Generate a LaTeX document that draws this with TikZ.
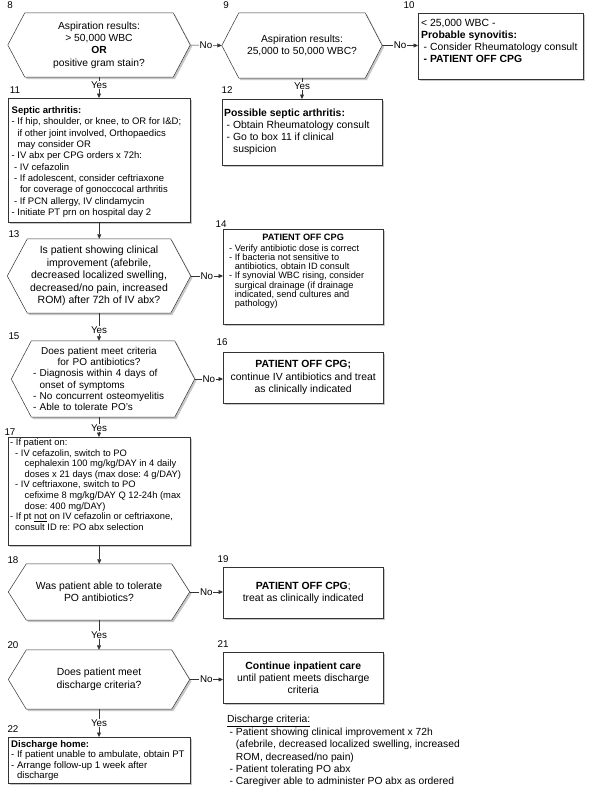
\documentclass[tikz,border=0pt]{standalone}
\usepackage{fontspec}
\setmainfont{Liberation Sans}
\usetikzlibrary{arrows.meta,shadows,calc}
\pgfdeclarelayer{bg}
\pgfsetlayers{bg,main}
\frenchspacing
\newcommand\fs[2]{\fontsize{#1}{#2}\selectfont}
\newcommand\ind{\phantom{- }}
\newcommand\sub{\hspace*{2.5pt}}
\newcommand\hexa[2]{%
  \begin{pgfonlayer}{bg}
  \fill[black!22] ($(#1.west)+(1.8,1.8)$) -- ($(#1.north west)+(#2+1.8,1.8)$) -- ($(#1.north east)+(-#2+1.8,1.8)$) -- ($(#1.east)+(1.8,1.8)$) -- ($(#1.south east)+(-#2+1.8,1.8)$) -- ($(#1.south west)+(#2+1.8,1.8)$) -- cycle;
  \draw[ln, fill=white] (#1.west) -- ($(#1.north west)+(#2,0)$) -- ($(#1.north east)+(-#2,0)$) -- (#1.east) -- ($(#1.south east)+(-#2,0)$) -- ($(#1.south west)+(#2,0)$) -- cycle;
  \end{pgfonlayer}}
\tikzset{
  ln/.style={draw=black!80, line width=0.5pt},
  bx/.style={ln, fill=white, rectangle, inner sep=0pt, anchor=north west,
    drop shadow={shadow xshift=1.8pt, shadow yshift=-1.8pt, fill=black!22, opacity=1}},
  tx/.style={inner sep=0pt, align=left, anchor=north west, execute at begin node=\frenchspacing},
  tc/.style={inner sep=0pt, align=center, execute at begin node=\frenchspacing},
  hexn/.style={rectangle, inner sep=0pt, align=center, execute at begin node=\frenchspacing},
  conn/.style={ln, -{Triangle[length=4.5pt,width=4pt]}},
  lbl/.style={fill=white, inner sep=0.8pt, font=\fs{9.8}{12}},
  num/.style={font=\fs{9.8}{12}, inner sep=0pt},
}
\begin{document}
\begin{tikzpicture}[x=1pt,y=-1pt]
\useasboundingbox (0,0) rectangle (595,803);
\begin{pgfonlayer}{bg}\fill[white] (0,0) rectangle (595,803);\end{pgfonlayer}

% hexagon decision nodes
\node[hexn, minimum width=182, minimum height=64, font=\fs{10.3}{12.4}] (h8) at (99,45) {Aspiration results:\\> 50,000 WBC\\\textbf{OR}\\positive gram stain?};
\node[hexn, minimum width=160, minimum height=65, font=\fs{10.3}{12.4}] (h9) at (302,45.5) {Aspiration results:\\25,000 to 50,000 WBC?};
\node[hexn, minimum width=183, minimum height=74, font=\fs{10.5}{12.4}] (h13) at (99,276) {Is patient showing clinical\\improvement (afebrile,\\decreased localized swelling,\\decreased/no pain, increased\\ROM) after 72h of IV abx?};
\node[hexn, minimum width=183, minimum height=76, text width=140, align=left, font=\fs{10}{11.3}] (h15) at (103,379) {\makebox[132pt]{Does patient meet criteria}\\\makebox[132pt]{for PO antibiotics?}\\- Diagnosis within 4 days of\\\ind onset of symptoms\\- No concurrent osteomyelitis\\- Able to tolerate PO's};
\node[hexn, minimum width=181, minimum height=56, font=\fs{10.4}{12.4}] (h18) at (99,592) {Was patient able to tolerate\\PO antibiotics?};
\node[hexn, minimum width=181, minimum height=59, font=\fs{10.4}{12.4}] (h20) at (99,679.5) {Does patient meet\\discharge criteria?};
\hexa{h8}{17}
\hexa{h9}{17}
\hexa{h13}{20}
\hexa{h15}{20}
\hexa{h18}{18}
\hexa{h20}{18}

% boxes
\node[bx, minimum width=165, minimum height=66] (b10) at (418,13) {};
\node[tx, font=\fs{10.4}{12.2}] (t10) at (421,18.8) {< 25,000 WBC -\\\textbf{Probable synovitis:}\\\sub- Consider Rheumatology consult\\\sub\textbf{- PATIENT OFF CPG}};

\node[bx, minimum width=182, minimum height=124] (b11) at (8,98) {};
\node[tx, font=\fs{9.5}{11.3}] (t11) at (11.5,106.6) {\textbf{Septic arthritis:}\\- If hip, shoulder, or knee, to OR for I\&D;\\\ind if other joint involved, Orthopaedics\\\ind may consider OR\\- IV abx per CPG orders x 72h:\\\sub- IV cefazolin\\\sub- If adolescent, consider ceftriaxone\\\sub\ind for coverage of gonoccocal arthritis\\\sub- If PCN allergy, IV clindamycin\\- Initiate PT prn on hospital day 2};

\node[bx, minimum width=160, minimum height=66] (b12) at (222,99) {};
\node[tx, font=\fs{10.4}{12}] (t12) at (224,108.3) {\textbf{Possible septic arthritis:}\\\sub- Obtain Rheumatology consult\\\sub- Go to box 11 if clinical\\\sub\ind suspicion};

\node[bx, minimum width=160, minimum height=95] (b14) at (223,229) {};
\node[tx, font=\fs{9.2}{9.2}] (t14) at (229,233.6) {\makebox[148pt]{\textbf{PATIENT OFF CPG}}\\[1.8pt]- Verify antibiotic dose is correct\\- If bacteria not sensitive to\\\ind antibiotics, obtain ID consult\\- If synovial WBC rising, consider\\\ind surgical drainage (if drainage\\\ind indicated, send cultures and\\\ind pathology)};

\node[bx, minimum width=160, minimum height=51] (b16) at (223,352) {};
\node[tc, font=\fs{10.4}{12.4}] (t16) at (b16.center) {\textbf{PATIENT OFF CPG;}\\continue IV antibiotics and treat\\as clinically indicated};

\node[bx, minimum width=182, minimum height=108] (b17) at (8,437) {};
\node[tx, font=\fs{9.35}{10.6}] (t17) at (10,438.6) {- If patient on:\\\hspace*{5pt}- IV cefazolin, switch to PO\\\hspace*{14.5pt}cephalexin 100 mg/kg/DAY in 4 daily\\\hspace*{14.5pt}doses x 21 days (max dose: 4 g/DAY)\\\hspace*{5pt}- IV ceftriaxone, switch to PO\\\hspace*{14.5pt}cefixime 8 mg/kg/DAY Q 12-24h (max\\\hspace*{14.5pt}dose: 400 mg/DAY)\\- If pt \underline{not} on IV cefazolin or ceftriaxone,\\\hspace*{5pt}consult ID re: PO abx selection};

\node[bx, minimum width=160, minimum height=51] (b19) at (223,567) {};
\node[tc, font=\fs{10.4}{12.4}] (t19) at (b19.center) {\textbf{PATIENT OFF CPG};\\treat as clinically indicated};

\node[bx, minimum width=160, minimum height=51] (b21) at (223,652) {};
\node[tc, font=\fs{10.4}{12.2}] (t21) at (b21.center) {\textbf{Continue inpatient care}\\until patient meets discharge\\criteria};

\node[bx, minimum width=182, minimum height=46] (b22) at (8,737) {};
\node[tx, font=\fs{9.6}{10.3}] (t22) at (11,740.5) {\textbf{Discharge home:}\\- If patient unable to ambulate, obtain PT\\- Arrange follow-up 1 week after\\\ind discharge};

\node[tx, font=\fs{10.3}{12.4}] (dc) at (227,715.3) {\underline{Discharge criteria:}\\\sub- Patient showing clinical improvement x 72h\\\sub\ind(afebrile, decreased localized swelling, increased\\\sub\ind ROM, decreased/no pain)\\\sub- Patient tolerating PO abx\\\sub- Caregiver able to administer PO abx as ordered};

% numbers
\node[num] (n8) at (10,5) {8};
\node[num] (n9) at (226,5) {9};
\node[num] (n10) at (409,5) {10};
\node[num] (n11) at (15,90) {11};
\node[num] (n12) at (227,90) {12};
\node[num] (n13) at (14,234) {13};
\node[num] (n14) at (221,224) {14};
\node[num] (n15) at (14,336) {15};
\node[num] (n16) at (222,342) {16};
\node[num] (n17) at (10,432) {17};
\node[num] (n18) at (13,560) {18};
\node[num] (n19) at (223,559) {19};
\node[num] (n20) at (13,645) {20};
\node[num] (n21) at (223,644) {21};
\node[num] (n22) at (13,729) {22};

% connectors
\draw[conn] (h8.east) -- node[lbl]{No} (h9.west);
\draw[conn] (h9.east) -- node[lbl]{No} (h9.east -| b10.west);
\draw[conn] (h8.south) -- node[lbl,pos=0.38]{Yes} (h8.south |- b11.north);
\draw[conn] (h9.south) -- node[lbl,pos=0.38]{Yes} (h9.south |- b12.north);
\draw[conn] (b11.south) -- (b11.south |- h13.north);
\draw[conn] (h13.east) -- node[lbl]{No} (h13.east -| b14.west);
\draw[conn] (h13.south) -- node[lbl,pos=0.6]{Yes} (h13.south |- h15.north);
\draw[conn] (h15.east) -- node[lbl]{No} (h15.east -| b16.west);
\draw[conn] (h13.south |- h15.south) -- node[lbl,pos=0.55]{Yes} (h13.south |- b17.north);
\draw[conn] (b17.south) -- (b17.south |- h18.north);
\draw[conn] (h18.east) -- node[lbl]{No} (h18.east -| b19.west);
\draw[conn] (h18.south) -- node[lbl,pos=0.5]{Yes} (h18.south |- h20.north);
\draw[conn] (h20.east) -- node[lbl]{No} (h20.east -| b21.west);
\draw[conn] (h20.south) -- node[lbl,pos=0.5]{Yes} (h20.south |- b22.north);
\end{tikzpicture}
\end{document}
